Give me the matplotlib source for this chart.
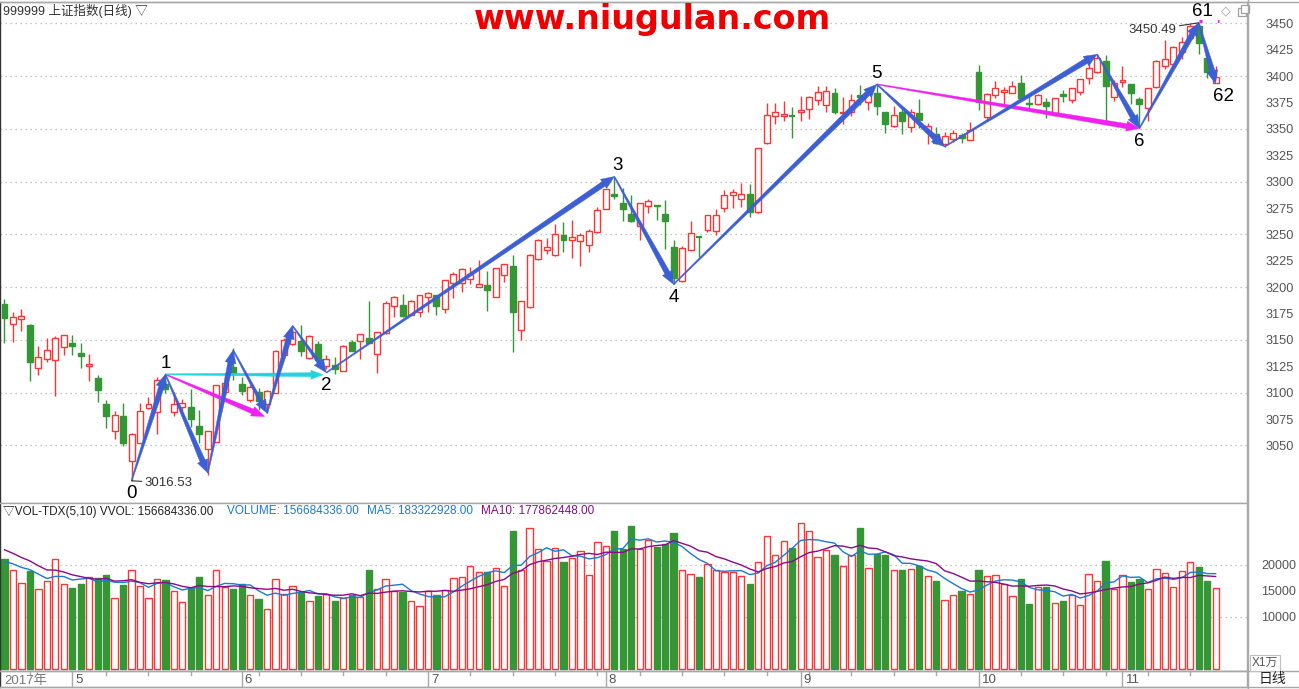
import numpy as np
import pandas as pd
import matplotlib
matplotlib.use("Agg")
import matplotlib.pyplot as plt
from matplotlib.patches import Polygon, Rectangle
from matplotlib.lines import Line2D

plt.rcParams['font.family'] = ['Liberation Sans', 'Noto Sans CJK SC', 'DejaVu Sans']

# ---------------- data ----------------
holidays = ['2017-05-01', '2017-05-29', '2017-05-30', '2017-10-02', '2017-10-03',
            '2017-10-04', '2017-10-05', '2017-10-06']
dates = pd.bdate_range('2017-04-19', '2017-11-16')
dates = dates[~dates.isin(pd.to_datetime(holidays))]

opens = [3184.0, 3164.8, 3169.5, 3164.1, 3123.1, 3131.9, 3130.7, 3143.6, 3147.1, 3137.6,
         3125.6, 3113.9, 3089.3, 3063.7, 3077.9, 3035.5, 3052.6, 3085.2, 3081.4, 3107.9,
         3081.4, 3086.4, 3086.1, 3068.4, 3046.3, 3053.5, 3100.4, 3124.6, 3108.2, 3093.1,
         3101.0, 3089.0, 3100.0, 3135.4, 3146.1, 3148.7, 3133.1, 3146.1, 3125.3, 3126.2,
         3120.8, 3147.7, 3148.7, 3151.5, 3136.9, 3156.3, 3182.4, 3182.8, 3173.9, 3176.2,
         3190.9, 3192.3, 3179.0, 3203.6, 3203.6, 3208.0, 3200.4, 3202.0, 3190.9, 3211.5,
         3220.0, 3159.1, 3180.9, 3227.0, 3235.5, 3230.2, 3249.1, 3244.4, 3243.4, 3239.7,
         3252.0, 3274.0, 3288.0, 3279.4, 3269.0, 3257.7, 3276.9, 3277.6, 3269.0, 3237.8,
         3205.5, 3235.2, 3247.8, 3253.9, 3252.9, 3274.7, 3287.0, 3283.2, 3288.0, 3270.9,
         3336.3, 3361.9, 3361.9, 3362.2, 3365.7, 3369.1, 3377.1, 3372.3, 3383.7, 3364.7,
         3365.7, 3381.8, 3375.2, 3383.7, 3365.7, 3352.4, 3365.7, 3352.0, 3365.0, 3347.7,
         3344.8, 3335.6, 3340.7, 3343.9, 3339.7, 3403.9, 3361.5, 3381.8, 3385.2, 3384.3,
         3393.2, 3374.2, 3373.3, 3375.2, 3363.1, 3382.7, 3377.3, 3384.6, 3397.9, 3404.2,
         3414.3, 3380.5, 3394.1, 3392.2, 3378.0, 3369.5, 3389.4, 3409.6, 3411.5, 3423.1,
         3436.4, 3447.5, 3416.9, 3393.2]
highs = [3188.5, 3176.4, 3179.0, 3165.0, 3144.2, 3151.5, 3153.7, 3154.9, 3154.7, 3146.8,
         3136.7, 3116.7, 3093.1, 3082.9, 3089.9, 3062.0, 3089.9, 3095.6, 3114.6, 3117.4,
         3100.9, 3094.0, 3103.5, 3083.6, 3064.0, 3107.5, 3118.4, 3142.1, 3115.1, 3107.3,
         3104.0, 3103.0, 3140.0, 3151.8, 3163.5, 3164.1, 3154.7, 3149.0, 3135.7, 3133.5,
         3145.2, 3149.9, 3155.6, 3186.9, 3157.5, 3186.9, 3191.9, 3193.2, 3187.5, 3192.6,
         3195.0, 3192.6, 3207.1, 3214.3, 3217.8, 3218.8, 3225.7, 3215.3, 3218.2, 3222.0,
         3230.5, 3186.9, 3231.4, 3245.3, 3246.3, 3259.8, 3261.7, 3263.6, 3251.0, 3254.8,
         3275.9, 3293.0, 3304.8, 3293.7, 3287.0, 3279.7, 3283.8, 3277.8, 3282.6, 3244.7,
         3238.7, 3262.4, 3248.0, 3268.4, 3274.0, 3292.1, 3293.3, 3298.4, 3297.7, 3331.9,
         3374.8, 3374.8, 3376.4, 3370.4, 3380.8, 3380.8, 3390.9, 3390.6, 3388.4, 3379.9,
         3382.7, 3391.6, 3389.0, 3392.2, 3366.0, 3371.4, 3369.5, 3369.1, 3378.0, 3355.3,
         3352.0, 3347.0, 3348.9, 3346.1, 3356.8, 3410.5, 3384.3, 3395.1, 3389.7, 3395.1,
         3401.0, 3381.8, 3383.3, 3378.9, 3379.2, 3386.8, 3388.7, 3397.2, 3412.1, 3420.6,
         3420.0, 3396.3, 3409.6, 3392.5, 3380.5, 3388.7, 3415.2, 3434.2, 3428.1, 3437.3,
         3449.0, 3450.49, 3421.6, 3409.6]
lows = [3147.4, 3148.3, 3158.7, 3111.3, 3117.0, 3129.4, 3097.1, 3136.0, 3135.7, 3123.7,
        3111.3, 3091.5, 3066.8, 3055.8, 3049.8, 3016.53, 3052.0, 3084.8, 3060.6, 3099.4,
        3077.6, 3078.8, 3067.8, 3052.0, 3022.0, 3053.0, 3097.8, 3112.0, 3097.8, 3091.2,
        3084.0, 3080.8, 3099.5, 3135.0, 3145.5, 3135.0, 3131.6, 3130.5, 3122.1, 3117.7,
        3120.5, 3139.5, 3131.9, 3146.8, 3118.4, 3156.0, 3172.0, 3171.4, 3173.6, 3171.4,
        3176.7, 3173.9, 3175.2, 3189.4, 3195.7, 3203.0, 3200.1, 3177.7, 3190.6, 3205.2,
        3138.8, 3150.0, 3180.0, 3226.0, 3231.7, 3230.0, 3233.3, 3227.9, 3220.3, 3233.6,
        3251.7, 3273.7, 3283.2, 3262.4, 3262.2, 3244.7, 3270.0, 3263.6, 3236.4, 3202.7,
        3205.2, 3235.0, 3228.9, 3252.0, 3249.1, 3270.9, 3275.3, 3275.7, 3266.8, 3270.6,
        3336.0, 3354.9, 3357.7, 3341.6, 3357.7, 3359.6, 3372.3, 3365.7, 3363.8, 3354.3,
        3362.5, 3372.9, 3367.9, 3363.4, 3346.3, 3352.1, 3345.4, 3347.3, 3351.1, 3335.9,
        3336.0, 3333.1, 3337.8, 3336.9, 3339.4, 3367.9, 3359.3, 3379.5, 3372.6, 3384.0,
        3376.7, 3368.2, 3373.0, 3360.6, 3362.8, 3375.7, 3374.8, 3382.1, 3392.2, 3403.2,
        3357.7, 3376.7, 3389.4, 3373.3, 3350.5, 3357.7, 3389.0, 3406.7, 3411.2, 3415.9,
        3434.2, 3420.9, 3397.9, 3393.0]
closes = [3171.0, 3171.4, 3172.4, 3129.4, 3133.5, 3140.4, 3151.5, 3154.4, 3143.9, 3135.0,
          3126.9, 3102.8, 3078.2, 3079.1, 3052.6, 3060.8, 3082.4, 3089.3, 3112.0, 3103.8,
          3089.0, 3089.9, 3075.3, 3061.1, 3063.7, 3107.0, 3109.2, 3117.7, 3101.9, 3105.1,
          3091.7, 3102.0, 3139.2, 3149.6, 3157.8, 3139.8, 3153.7, 3130.7, 3131.6, 3122.7,
          3144.2, 3139.8, 3155.3, 3147.1, 3157.2, 3184.7, 3190.4, 3172.7, 3187.2, 3192.3,
          3194.7, 3182.4, 3206.8, 3212.2, 3217.5, 3212.5, 3202.9, 3197.6, 3217.9, 3221.7,
          3176.7, 3186.6, 3230.5, 3244.4, 3238.0, 3250.1, 3244.4, 3247.2, 3249.1, 3252.9,
          3272.8, 3292.7, 3286.1, 3273.8, 3262.4, 3279.4, 3281.3, 3276.6, 3262.4, 3208.9,
          3236.8, 3251.0, 3247.2, 3268.1, 3268.1, 3287.0, 3289.9, 3288.0, 3270.9, 3331.6,
          3363.1, 3365.7, 3363.8, 3361.5, 3367.6, 3379.9, 3384.6, 3385.6, 3366.3, 3365.7,
          3377.1, 3380.5, 3384.6, 3371.9, 3354.3, 3362.8, 3357.7, 3366.0, 3358.7, 3352.4,
          3336.3, 3343.5, 3345.8, 3341.0, 3348.9, 3375.7, 3383.0, 3388.4, 3386.5, 3390.3,
          3379.5, 3373.3, 3381.8, 3371.4, 3378.9, 3380.8, 3388.4, 3396.9, 3408.0, 3416.9,
          3390.9, 3393.2, 3396.3, 3384.3, 3373.3, 3388.4, 3414.3, 3415.9, 3427.8, 3432.6,
          3447.5, 3431.1, 3403.6, 3399.4]
# volume in units of 10,000 (万)
volumes = [21210, 19108, 16561, 18854, 15478, 17006, 21146, 16433, 15541, 16433,
           17707, 17580, 18153, 13567, 16115, 19108, 16051, 13694, 17325, 17070,
           14904, 12930, 15605, 17771, 14140, 19045, 15732, 15350, 16433, 14268,
           13439, 11465, 17325, 14331, 15987, 14841, 12994, 14013, 14459, 12994,
           13567, 14140, 13758, 19108, 15478, 17325, 14904, 14713, 12994, 12166,
           14968, 14140, 15287, 17516, 17707, 19873, 18726, 18726, 19363, 15987,
           26624, 19108, 27070, 23057, 20701, 23248, 20510, 21338, 22675, 18089,
           24395, 23567, 26624, 23057, 27516, 23100, 24900, 23526, 24038, 26218,
           19038, 18269, 17756, 20256, 19103, 18590, 18718, 17949, 16410, 20641,
           25641, 21923, 24615, 23333, 28077, 26538, 21538, 22885, 21987, 19808,
           21923, 27179, 19423, 22115, 21987, 19103, 19103, 19231, 19744, 17885,
           16987, 13269, 14231, 15064, 14423, 19103, 17885, 18077, 16346, 14038,
           17372, 12564, 15833, 15833, 12692, 13141, 14231, 12308, 18269, 16987,
           20833, 15385, 18077, 16795, 17372, 15385, 19149, 18526, 15769, 18846,
           20545, 19615, 16987, 15668]
prior_volumes = [26000, 24500, 25500, 24800, 25000, 21500, 20000, 21000, 19800]

# zig-zag pivots (candle index, price, label)
pivot_idx = [15, 19, 24, 27, 31, 34, 38, 72, 79, 103, 111, 129, 134, 141, 143]
pivot_px = [3016.53, 3117.4, 3024.0, 3140.4, 3080.7, 3163.5, 3119.0, 3304.8, 3202.7,
            3392.2, 3333.1, 3420.6, 3350.5, 3450.49, 3393.0]
pivot_lbl = ['0', '1', '', '', '', '', '2', '3', '4', '5', '', '', '6', '61', '62']
pivot_side = [-1, 1, 0, 0, 0, 0, -1, 1, -1, 1, 0, 0, -1, 1, -1]
magenta_legs = [((19, 3117.4), (30.7, 3077.5)), ((103, 3392.2), (134, 3350.5))]
cyan_legs = [((19, 3117.4), (37.6, 3117.0))]

month_labels = ['5', '6', '7', '8', '9', '10', '11']
price_ticks = list(range(3050, 3451, 25))
vol_ticks = [10000, 15000, 20000]

# ---------------- styling ----------------
RED = '#ff3535'
GREEN = '#359635'
BLUE_ARROW = '#3c5fd6'
MAGENTA = '#f020f0'
CYAN = '#28d2dc'
GRID = '#b4b4b4'
BORDER = '#a8a8a8'

W, H = 1299, 689
fig = plt.figure(figsize=(W / 100, H / 100), dpi=100)
fig.patch.set_facecolor('white')

def fx(px):
    return px / W

def fy(py):
    return 1 - py / H

ax = fig.add_axes([0, fy(503), fx(1247), (503 - 2) / H])
axv = fig.add_axes([0, fy(671), fx(1247), (671 - 503) / H])
axd = fig.add_axes([0, fy(687), fx(1247), (687 - 671) / H])

n = len(closes)
xs = np.arange(n)
xlim = (-0.531, 146.70)
for a in (ax, axv, axd):
    a.set_xlim(*xlim)
    a.set_facecolor('white')
    a.set_xticks([])
    for s in a.spines.values():
        s.set_color(BORDER)
        s.set_linewidth(1)
    a.spines['left'].set_color('#333333')

ax.set_ylim(2995.5, 3470.2)
axv.set_ylim(-385, 31923)
axd.set_ylim(0, 1)
axd.set_yticks([])

# grid lines
for p in range(3050, 3451, 50):
    ax.axhline(p, color=GRID, lw=0.9, ls=(0, (1, 3)), zorder=0)
for v in (10000, 20000):
    axv.axhline(v, color=GRID, lw=0.9, ls=(0, (1, 3)), zorder=0)

# price axis labels (right)
ax.yaxis.tick_right()
ax.set_yticks(price_ticks)
ax.set_yticklabels([str(t) for t in price_ticks])
ax.tick_params(axis='y', length=0, pad=13.5, labelsize=9.2, labelcolor='#555555')
axv.yaxis.tick_right()
axv.set_yticks(vol_ticks)
axv.set_yticklabels([str(t) for t in vol_ticks])
axv.tick_params(axis='y', length=0, pad=10, labelsize=9, labelcolor='#555555')

# ---------------- candles ----------------
bw = 0.70
for i in range(n):
    o, h, l, c = opens[i], highs[i], lows[i], closes[i]
    up = c >= o
    col = RED if up else GREEN
    top, bot = max(o, c), min(o, c)
    if up:
        ax.vlines(i, top, h, color=col, lw=1.0, zorder=2)
        ax.vlines(i, l, bot, color=col, lw=1.0, zorder=2)
    else:
        ax.vlines(i, l, h, color=col, lw=1.0, zorder=2)
    if top - bot < 0.8:
        ax.hlines((top + bot) / 2, i - bw / 2, i + bw / 2, color=col, lw=1.6, zorder=3)
    else:
        ax.add_patch(Rectangle((i - bw / 2, bot), bw, top - bot,
                               facecolor='white' if up else col, edgecolor=col,
                               lw=1.0, zorder=3))

# ---------------- volume ----------------
vw = 0.74
for i in range(n):
    up = closes[i] >= opens[i]
    col = RED if up else GREEN
    axv.add_patch(Rectangle((i - vw / 2, 0), vw, volumes[i],
                            facecolor='white' if up else col, edgecolor=col,
                            lw=1.0, zorder=2))
allv = pd.Series(prior_volumes + volumes, dtype=float)
ma5 = allv.rolling(5, min_periods=1).mean().values[len(prior_volumes):]
ma10 = allv.rolling(10, min_periods=1).mean().values[len(prior_volumes):]
axv.plot(xs, ma5, color='#1a7ad4', lw=1.0, zorder=4)
axv.plot(xs, ma10, color='#8a0a8a', lw=1.0, zorder=4)

# ---------------- tapered arrows ----------------
def taper_arrow(a, p0, p1, color, w_tail=1.0, w_end=5.5, head_w=11.0, head_l=13.0, z=6):
    T = a.transData
    s = T.transform(p0)
    e = T.transform(p1)
    d = e - s
    L = np.hypot(d[0], d[1])
    u = d / L
    nn = np.array([-u[1], u[0]])
    base = e - u * head_l
    pts = np.array([s + nn * w_tail / 2, base + nn * w_end / 2, base + nn * head_w / 2, e,
                    base - nn * head_w / 2, base - nn * w_end / 2, s - nn * w_tail / 2])
    a.add_patch(Polygon(T.inverted().transform(pts), closed=True, facecolor=color,
                        edgecolor=color, lw=0.3, zorder=z))

for k in range(len(pivot_idx) - 1):
    p0 = (pivot_idx[k], pivot_px[k])
    p1 = (pivot_idx[k + 1], pivot_px[k + 1])
    wend = 3.5 if k in (3, 5) else 5.5
    taper_arrow(ax, p0, p1, BLUE_ARROW, w_end=wend)
for p0, p1 in magenta_legs:
    taper_arrow(ax, p0, p1, MAGENTA, w_end=5.0, head_w=10, head_l=13, z=5)
for p0, p1 in cyan_legs:
    taper_arrow(ax, p0, p1, CYAN, w_end=4.0, head_w=9, head_l=12, z=5)

# pivot labels
for i, p, t, sd in zip(pivot_idx, pivot_px, pivot_lbl, pivot_side):
    if not t:
        continue
    dx = 0
    if t == '3':
        dx = 3
    if t == '61':
        dx = 4
    if t == '62':
        dx = 8
    dy = 11 if sd > 0 else -13
    ax.annotate(t, (i, p), xytext=(dx, dy), textcoords='offset pixels',
                ha='center', va='center', fontsize=13.5, color='black', zorder=10)

# price extremes annotations
ax.annotate('3016.53', (pivot_idx[0], pivot_px[0]), xytext=(13, -2), textcoords='offset pixels',
            ha='left', va='center', fontsize=9.5, color='#333333', zorder=10,
            arrowprops=dict(arrowstyle='-', color='#333333', lw=0.8, shrinkA=0, shrinkB=0))
ax.annotate('3450.49', (pivot_idx[13], pivot_px[13]), xytext=(-22, -7), textcoords='offset pixels',
            ha='right', va='center', fontsize=9.5, color='#333333', zorder=10,
            arrowprops=dict(arrowstyle='-', color='#333333', lw=0.8, shrinkA=0, shrinkB=0))
ax.hlines(pivot_px[13] + 2.0, pivot_idx[13], pivot_idx[14] + 0.4, color=MAGENTA,
          lw=2.2, ls=(0, (1, 5)), zorder=9)

# ---------------- texts ----------------
fig.text(fx(3), fy(11), '999999 上证指数(日线) ▽', ha='left', va='center',
         fontsize=9, color='#333333')
fig.text(fx(652), fy(20), 'www.niugulan.com', ha='center', va='center',
         fontsize=24, fontweight='bold', color='#ee0000', family='DejaVu Sans')
fig.text(fx(1226), fy(11), '◇', ha='center', va='center', fontsize=9, color='#a0a0a0',
         family='DejaVu Sans')
for ox, oy in ((1238, 8), (1241, 5)):
    fig.add_artist(Rectangle((fx(ox), fy(oy + 8)), fx(8), 8 / H, transform=fig.transFigure,
                             facecolor='white', edgecolor='#a0a0a0', lw=0.9))

hy = fy(511.5)
fig.text(fx(3), hy, '▽VOL-TDX(5,10) VVOL: 156684336.00', ha='left', va='center',
         fontsize=8.5, color='#222222')
fig.text(fx(227), hy, 'VOLUME: 156684336.00', ha='left', va='center', fontsize=8.5, color='#1a7ad4')
fig.text(fx(367), hy, 'MA5: 183322928.00', ha='left', va='center', fontsize=8.5, color='#1a7ad4')
fig.text(fx(481), hy, 'MA10: 177862448.00', ha='left', va='center', fontsize=8.5, color='#8a0a8a')

fig.text(fx(1265), fy(663), 'X1万', ha='center', va='center', fontsize=8.5, color='#555555',
         bbox=dict(boxstyle='square,pad=0.15', facecolor='white', edgecolor='#c0c0c0', lw=0.8))

# date strip
month_idx = [int(np.where(dates.month == m)[0][0]) for m in (5, 6, 7, 8, 9, 10, 11)]
for mi, lbl in zip(month_idx, month_labels):
    axd.axvline(mi, color=BORDER, lw=1)
    axd.text(mi + 0.35, 0.42, lbl, ha='left', va='center', fontsize=9.5, color='#555555')
mondays = [k for k in range(n) if dates[k].weekday() == 0 and k not in month_idx]
for k in mondays:
    axd.axvline(k, ymin=0.75, ymax=1.0, color=BORDER, lw=1)
axd.text(0.0, 0.42, '2017年', ha='left', va='center', fontsize=9.5, color='#777777')
fig.text(fx(1272), fy(679), '日线', ha='center', va='center', fontsize=10, color='#222222')

# frame lines around the right label area
fig.add_artist(Line2D([0, 1], [fy(1.5), fy(1.5)], transform=fig.transFigure, color=BORDER, lw=1))
fig.add_artist(Line2D([0, 1], [fy(671), fy(671)], transform=fig.transFigure, color=BORDER, lw=1))
fig.add_artist(Line2D([0, 1], [fy(687), fy(687)], transform=fig.transFigure, color=BORDER, lw=1))
fig.add_artist(Line2D([fx(1247.5), fx(1247.5)], [0, 1], transform=fig.transFigure, color=BORDER, lw=1))

fig.savefig('out.png', dpi=100, facecolor='white')
